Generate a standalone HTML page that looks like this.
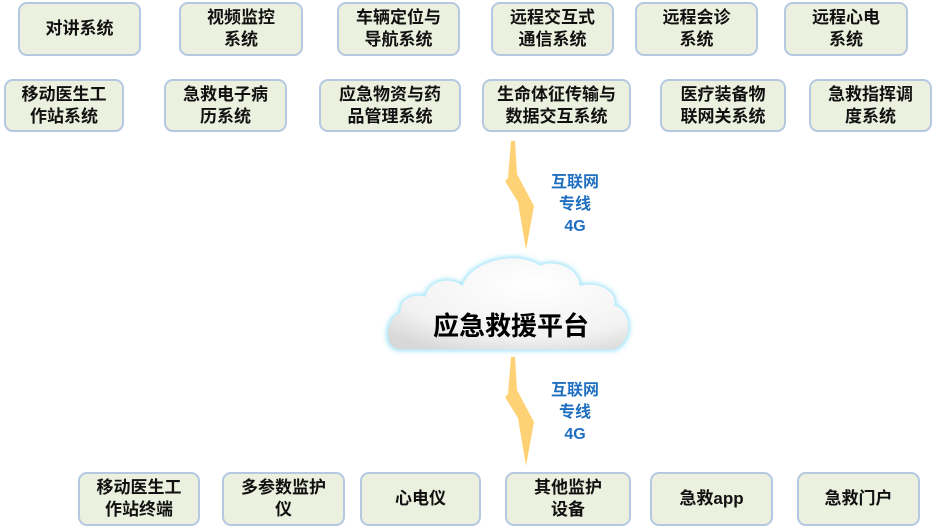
<!DOCTYPE html>
<html><head><meta charset="utf-8"><style>
body{margin:0;width:933px;height:527px;background:#fff;position:relative;overflow:hidden;font-family:"Liberation Sans","Noto Sans CJK SC",sans-serif}
.b{position:absolute;box-sizing:border-box;background:#ebf1de;border:2px solid #b4c8e2;border-radius:9px;display:flex;align-items:center;justify-content:center;text-align:center;font-weight:bold;font-size:17px;line-height:22px;color:#111}
.l{position:absolute;text-align:center;font-weight:bold;font-size:16px;line-height:22px;color:#1f6fc0;width:60px}
.c{position:absolute;left:386px;top:306px;width:250px;text-align:center;font-size:26px;font-weight:bold;color:#000}
</style></head><body>
<div class="b" style="left:18px;top:2px;width:123px;height:54px">对讲系统</div>
<div class="b" style="left:179px;top:2px;width:124px;height:54px">视频监控<br>系统</div>
<div class="b" style="left:337px;top:2px;width:123px;height:54px">车辆定位与<br>导航系统</div>
<div class="b" style="left:491px;top:2px;width:123px;height:54px">远程交互式<br>通信系统</div>
<div class="b" style="left:635px;top:2px;width:123px;height:54px">远程会诊<br>系统</div>
<div class="b" style="left:784px;top:2px;width:124px;height:54px">远程心电<br>系统</div>
<div class="b" style="left:4px;top:79px;width:120px;height:53px">移动医生工<br>作站系统</div>
<div class="b" style="left:164px;top:79px;width:123px;height:53px">急救电子病<br>历系统</div>
<div class="b" style="left:319px;top:79px;width:142px;height:53px">应急物资与药<br>品管理系统</div>
<div class="b" style="left:482px;top:79px;width:149px;height:53px">生命体征传输与<br>数据交互系统</div>
<div class="b" style="left:660px;top:79px;width:126px;height:53px">医疗装备物<br>联网关系统</div>
<div class="b" style="left:809px;top:79px;width:123px;height:53px">急救指挥调<br>度系统</div>
<div class="b" style="left:78px;top:472px;width:122px;height:54px">移动医生工<br>作站终端</div>
<div class="b" style="left:222px;top:472px;width:123px;height:54px">多参数监护<br>仪</div>
<div class="b" style="left:360px;top:472px;width:121px;height:54px">心电仪</div>
<div class="b" style="left:505px;top:472px;width:126px;height:54px">其他监护<br>设备</div>
<div class="b" style="left:650px;top:472px;width:123px;height:54px">急救app</div>
<div class="b" style="left:797px;top:472px;width:123px;height:54px">急救门户</div>
<svg width="933" height="527" style="position:absolute;left:0;top:0">
<defs>
<radialGradient id="g" cx="0.6" cy="0.3" r="0.8"><stop offset="0" stop-color="#fff"/><stop offset="0.7" stop-color="#f2f2f2"/><stop offset="1" stop-color="#d8d8d8"/></radialGradient>
<filter id="f" x="-20%" y="-30%" width="140%" height="160%"><feGaussianBlur stdDeviation="3"/></filter>
</defs>
<g fill="#ffcc66" opacity="0.9">
<polygon points="511,141 515,141 517,174 534,206 526,250 518,202 505,181 508,178"/>
<polygon points="511,357 515,357 517,390 534,422 526,466 518,418 505,397 508,394"/>
</g>
<g>
<path d="M400,350 C383,350 383,320 400,312 C398,300 412,292 425,296 C428,280 450,275 462,285 C472,258 520,250 540,265 C555,258 580,268 580,285 C600,280 618,292 615,305 C632,310 635,340 615,350 Z" fill="#7dd8f5" filter="url(#f)"/>
<path d="M400,350 C383,350 383,320 400,312 C398,300 412,292 425,296 C428,280 450,275 462,285 C472,258 520,250 540,265 C555,258 580,268 580,285 C600,280 618,292 615,305 C632,310 635,340 615,350 Z" fill="url(#g)" stroke="#bfeefc" stroke-width="1.5"/>
</g>
</svg>
<div class="c">应急救援平台</div>
<div class="l" style="left:545px;top:172px">互联网<br>专线<br>4G</div>
<div class="l" style="left:545px;top:380px">互联网<br>专线<br>4G</div>
</body></html>
